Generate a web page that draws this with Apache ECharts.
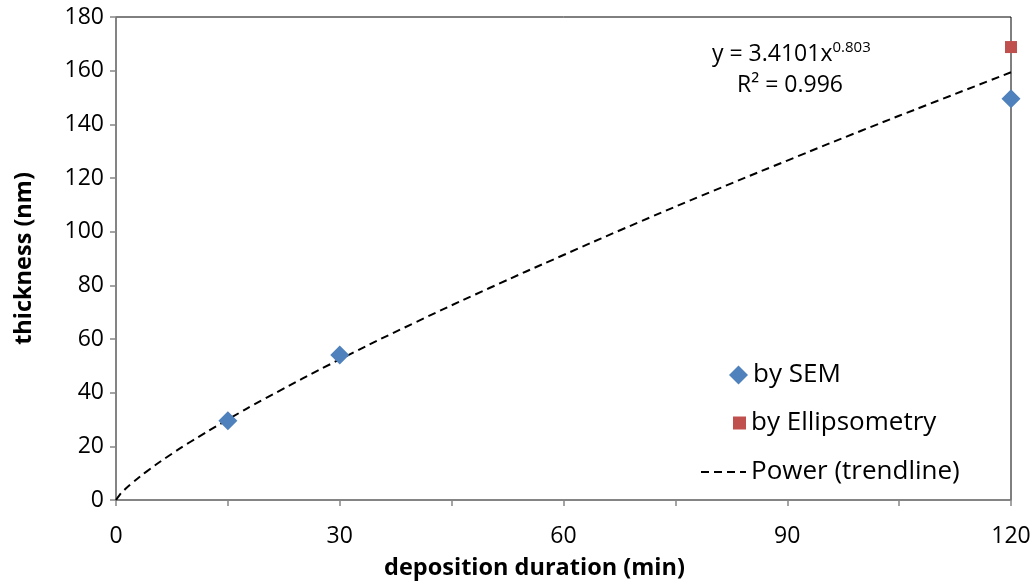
<!DOCTYPE html>
<html><head><meta charset="utf-8">
<script src="https://cdn.jsdelivr.net/npm/echarts@6/dist/echarts.min.js"></script>
<style>html,body{margin:0;padding:0;background:#fff}#c{width:1034px;height:584px}</style>
</head><body><div id="c"></div>
<script>
var semData = [[15, 29.5], [30, 54], [120, 149.5]];
var ellipsoData = [[120, 168.8]];
// trendline (power fit curve)
var trendX = [0, 0.5, 1, 2, 4, 7, 10, 15, 20, 30, 40, 50, 60, 70, 80, 90, 100, 110, 120];
var trendY = [0, 1.95, 3.41, 5.95, 10.4, 16.3, 21.7, 30.0, 37.8, 52.4, 66.0, 78.9, 91.3, 103.4, 115.1, 126.5, 137.7, 148.6, 159.4];
var xTicks = [0, 30, 60, 90, 120];
var yTicks = [0, 20, 40, 60, 80, 100, 120, 140, 160, 180];
var eqText = 'y = 3.4101x';
var eqExp = '0.803';
var r2Text = 'R² = 0.996';

var FONT = 'Open Sans';
var FS = 23;
var LFS = 26;
var TFS = 23.5;
var trendData = trendX.map(function (x, i) { return [x, trendY[i]]; });
var chart = echarts.init(document.getElementById('c'), null, {renderer: 'canvas'});
var axisGray = '#868686';
chart.setOption({
  animation: false,
  textStyle: {fontFamily: FONT},
  grid: {left: 116, right: 23, top: 17, bottom: 84, show: true, borderColor: '#000', borderWidth: 1,
    containLabel: false, outerBoundsMode: 'none'},
  xAxis: {
    type: 'value', min: 0, max: 120, interval: 15,
    name: 'deposition duration (min)', nameLocation: 'middle', nameGap: 56,
    nameTextStyle: {fontFamily: FONT, fontSize: TFS, fontWeight: 'bold', color: '#000', padding: [0, 58, 0, 0]},
    axisLine: {lineStyle: {color: axisGray, width: 1.5}},
    axisTick: {show: true, inside: false, length: 6, lineStyle: {color: axisGray, width: 1.5}},
    splitLine: {show: false},
    axisLabel: {margin: 25, fontFamily: FONT, fontSize: FS, color: '#000',
      formatter: function (v) { return xTicks.indexOf(v) >= 0 ? String(v) : ''; }}
  },
  yAxis: {
    type: 'value', min: 0, max: 180, interval: 20,
    name: 'thickness (nm)', nameLocation: 'middle', nameGap: 80,
    nameTextStyle: {fontFamily: FONT, fontSize: TFS, fontWeight: 'bold', color: '#000'},
    axisLine: {show: true, lineStyle: {color: axisGray, width: 1.5}},
    axisTick: {show: true, inside: false, length: 6, lineStyle: {color: axisGray, width: 1.5}},
    splitLine: {show: false},
    axisLabel: {margin: 12, fontFamily: FONT, fontSize: FS, color: '#000',
      formatter: function (v) { return yTicks.indexOf(v) >= 0 ? String(v) : ''; }}
  },
  legend: [
    {data: [{name: 'by SEM', icon: 'diamond'}], orient: 'vertical', left: 724, top: 357,
      itemWidth: 19, itemHeight: 19, textStyle: {fontFamily: FONT, fontSize: LFS, color: '#000'}},
    {data: [{name: 'by Ellipsometry', icon: 'rect'}], orient: 'vertical', left: 728, top: 405,
      itemWidth: 13, itemHeight: 13, textStyle: {fontFamily: FONT, fontSize: LFS, color: '#000'}},
    {data: [{name: 'Power (trendline)'}], orient: 'vertical', left: 695, top: 454,
      itemWidth: 45, itemHeight: 14, itemStyle: {opacity: 0},
      textStyle: {fontFamily: FONT, fontSize: LFS, color: '#000'}}
  ],
  graphic: [
    {type: 'text', left: 712, top: 40, style: {
      text: '{a|' + eqText + '}{s|' + eqExp + '}',
      rich: {a: {fontFamily: FONT, fontSize: FS, fill: '#000', verticalAlign: 'bottom'},
             s: {fontFamily: FONT, fontSize: 15, fill: '#000', verticalAlign: 'bottom', padding: [0, 0, 11, 0]}}
    }},
    {type: 'text', left: 737, top: 74, style: {text: r2Text, fontFamily: FONT, fontSize: FS, fill: '#000'}}
  ],
  series: [
    {name: 'Power (trendline)', type: 'line', data: trendData, smooth: true, symbol: 'none', z: 1,
      lineStyle: {color: '#000', width: 2, type: [8, 5]}, itemStyle: {color: '#000'}},
    {name: 'by SEM', type: 'scatter', data: semData, symbol: 'diamond', symbolSize: 19, z: 3,
      itemStyle: {color: '#4F81BD', opacity: 1}},
    {name: 'by Ellipsometry', type: 'scatter', data: ellipsoData, symbol: 'rect', symbolSize: 12, z: 3,
      itemStyle: {color: '#C0504D', opacity: 1}}
  ]
});
</script></body></html>
